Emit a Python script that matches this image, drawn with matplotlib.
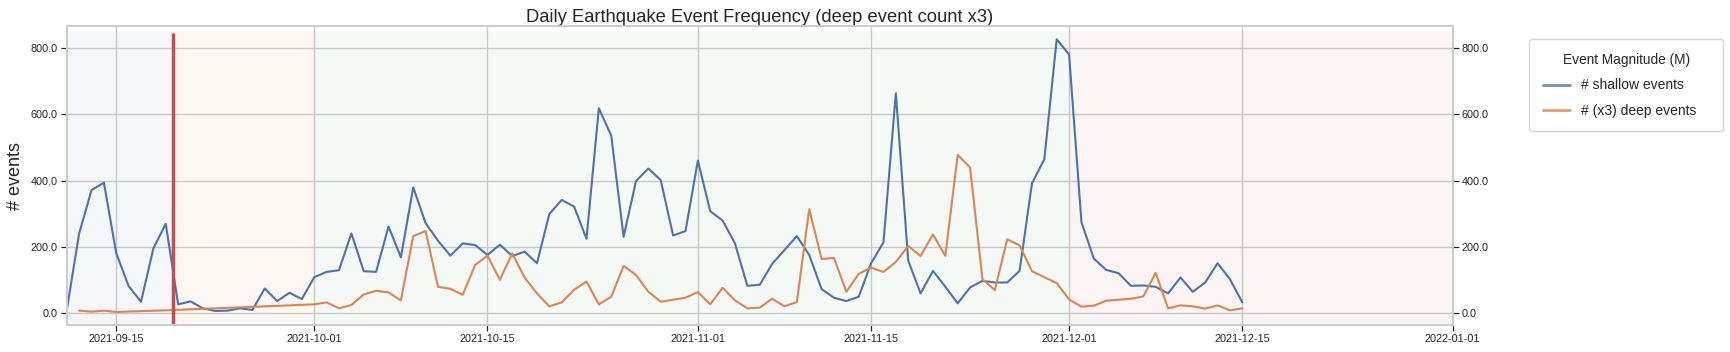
import numpy as np
import pandas as pd
import matplotlib.pyplot as plt
import matplotlib.dates as mdates
from matplotlib.ticker import FormatStrFormatter
import seaborn as sns

sns.set_theme(style="whitegrid", palette="deep",
              rc={"xtick.bottom": True, "ytick.left": True, "ytick.right": True,
                  "axes.edgecolor": "#cccccc"})
plt.rcParams['font.family'] = ['Liberation Sans', 'DejaVu Sans']

# daily counts, shallow events (from 2021-09-11)
shallow_start = "2021-09-11"
shallow = [10, 241, 372, 394, 181, 82, 35, 196, 270, 27,
           36, 15, 7, 8, 15, 10, 75, 37, 62, 43,
           109, 125, 130, 241, 127, 125, 262, 169, 380, 272,
           219, 174, 211, 206, 176, 207, 173, 186, 151, 300,
           342, 322, 225, 619, 536, 231, 399, 437, 402, 235,
           248, 461, 308, 280, 211, 83, 86, 149, 191, 233,
           176, 73, 47, 37, 50, 151, 214, 664, 159, 60,
           128, 80, 30, 78, 98, 93, 93, 128, 392, 465,
           827, 781, 275, 165, 131, 121, 83, 84, 80, 60,
           108, 65, 93, 151, 103, 33]

# deep events (x3) - sparse before October
deep_dates_early = ["2021-09-12", "2021-09-13", "2021-09-14", "2021-09-15", "2021-09-19"]
deep_early = [8, 5, 8, 4, 9]
deep_start = "2021-10-01"
deep = [27, 33, 15, 25, 57, 68, 63, 39, 233, 248,
        80, 74, 56, 146, 174, 101, 181, 108, 60, 21,
        33, 71, 96, 27, 50, 143, 116, 65, 35, 41,
        47, 64, 27, 77, 39, 15, 17, 44, 21, 34,
        314, 164, 167, 65, 119, 138, 125, 155, 203, 173,
        238, 173, 478, 440, 103, 70, 223, 205, 127, 109,
        91, 42, 20, 23, 38, 41, 44, 51, 122, 15,
        24, 21, 14, 24, 9, 15]

eruption = "2021-09-19 14:10"
phases = ["2021-09-11 00:00", eruption, "2021-10-01 00:00", "2021-12-01 00:00", "2022-01-01 00:00"]
phase_colors = ["C0", "C1", "C2", "C3"]
xticks = ["2021-09-15", "2021-10-01", "2021-10-15", "2021-11-01",
          "2021-11-15", "2021-12-01", "2021-12-15", "2022-01-01"]
yticks = [0, 200, 400, 600, 800]

s_idx = pd.date_range(shallow_start, periods=len(shallow), freq="D")
d_idx = pd.to_datetime(deep_dates_early).append(
    pd.date_range(deep_start, periods=len(deep), freq="D"))
d_val = deep_early + deep

fig = plt.figure(figsize=(17.3, 3.52), dpi=100)
ax = fig.add_axes([0.0386, 0.0767, 0.8011, 0.8494])

for i in range(4):
    span = [pd.Timestamp(phases[i]), pd.Timestamp(phases[i + 1])]
    ax.fill_between(span, -40, 850, color=phase_colors[i], alpha=0.06, lw=0)

ax.plot(s_idx, shallow, color="C0", lw=1.5, label="# shallow events")
ax.plot(d_idx, d_val, color="C1", lw=1.5, label="# (x3) deep events")
ax.vlines(pd.Timestamp(eruption), -32, 845, color="C3", lw=2.5)

ax.set_xlim(pd.Timestamp("2021-09-11"), pd.Timestamp("2022-01-01"))
ax.set_ylim(-35.3, 867)
ax.set_yticks(yticks)
ax.yaxis.set_major_formatter(FormatStrFormatter("%.1f"))
ax.set_xticks(pd.to_datetime(xticks))
ax.xaxis.set_major_formatter(mdates.DateFormatter("%Y-%m-%d"))
ax.tick_params(labelsize=7.8, length=4.5, width=0.9, pad=2, colors=".15")
ax.set_ylabel("# events", fontsize=13, labelpad=5)
ax.set_title("Daily Earthquake Event Frequency (deep event count x3)", fontsize=13.2, pad=1.5)

ax2 = ax.twinx()
ax2.set_ylim(ax.get_ylim())
ax2.set_yticks(yticks)
ax2.yaxis.set_major_formatter(FormatStrFormatter("%.1f"))
ax2.grid(False)
ax2.tick_params(labelsize=7.8, length=4.5, width=0.9, pad=2, colors=".15",
                left=False, right=True)

leg = ax.legend(title="Event Magnitude (M)", fontsize=10, title_fontsize=9.8,
                loc="upper left", bbox_to_anchor=(0.884, 0.5, 0.1121, 0.388),
                bbox_transform=fig.transFigure, borderaxespad=0, mode="expand",
                borderpad=0.95, labelspacing=0.85, handlelength=2.0,
                handletextpad=0.8, frameon=True)
for h in leg.get_lines():
    h.set_linewidth(2)
    h.set_alpha(0.8)

fig.savefig("out.png")
